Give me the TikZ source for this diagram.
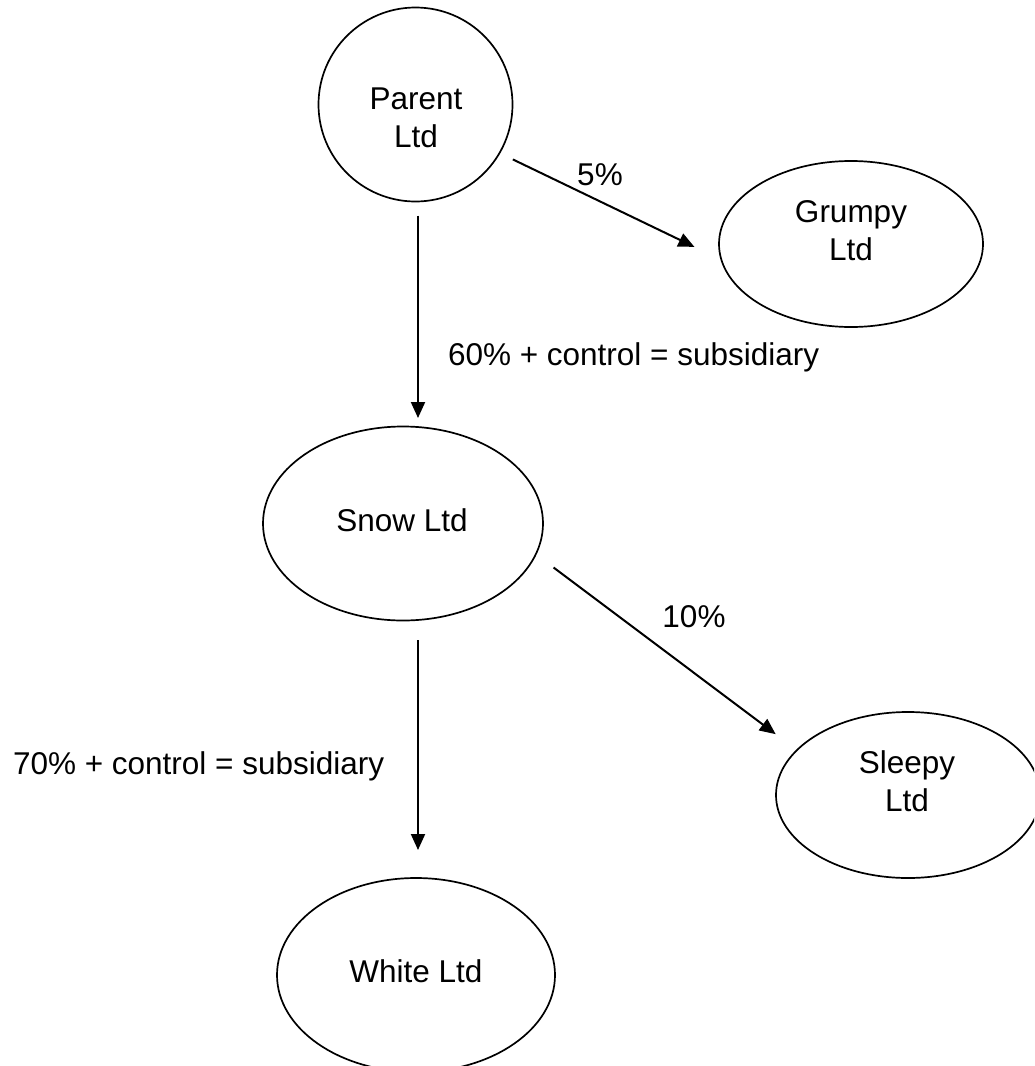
\documentclass[tikz,border=0pt]{standalone}
\usepackage{fontspec}
\setmainfont{Liberation Sans}
\usetikzlibrary{arrows.meta,shapes.geometric}
\begin{document}
\begin{tikzpicture}[x=1pt,y=-1pt,
  orgshape/.style={draw, line width=1.7pt, inner sep=0pt, outer sep=0pt},
  orgell/.style={orgshape, ellipse},
  orgcirc/.style={orgshape, circle, minimum size=194pt},
  txt/.style={font=\fontsize{31.5}{38}\selectfont, align=center, inner sep=0pt, outer sep=0pt},
  arr/.style={line width=2pt, -{Triangle[length=16pt,width=14pt]}}]
\useasboundingbox (0,0) rectangle (1034,1066);
\clip (0,0) rectangle (1034,1066);

% shapes
\node[orgcirc] (parent) at (415.5,104.5) {};
\node[orgell, minimum width=264pt, minimum height=166pt] (grumpy) at (851,244) {};
\node[orgell, minimum width=280pt, minimum height=194pt] (snow) at (403,523.5) {};
\node[orgell, minimum width=264pt, minimum height=166pt] (sleepy) at (908,795) {};
\node[orgell, minimum width=278pt, minimum height=194pt] (white) at (416,975) {};

% texts
\node[txt] (parentT) at (416,118) {Parent\\Ltd};
\node[txt] (grumpyT) at (851,231) {Grumpy\\Ltd};
\node[txt, anchor=base] (snowT) at (402,531) {Snow Ltd};
\node[txt] (sleepyT) at (907,781) {Sleepy\\Ltd};
\node[txt, anchor=base] (whiteT) at (416,982) {White Ltd};

% connectors
\draw[arr, shorten <=14.8pt, shorten >=30pt] (parent.-30) -- (grumpy.187.5);
\draw[arr, shorten <=14pt, shorten >=8.5pt] ([xshift=2.5pt]parent.south) -- ([xshift=15pt]snow.north);
\draw[arr, shorten <=22.2pt, shorten >=26.6pt] (snow.-13.7) -- (sleepy.158.5);
\draw[arr, shorten <=19.5pt, shorten >=28pt] ([xshift=15pt]snow.south) -- ([xshift=2pt]white.north);

% labels
\node[txt, anchor=base] (l5) at (600,185) {5\%};
\node[txt, anchor=base west] (l60) at (448,365) {60\% + control = subsidiary};
\node[txt, anchor=base] (l10) at (694,627) {10\%};
\node[txt, anchor=base west] (l70) at (13,774) {70\% + control = subsidiary};
\end{tikzpicture}
\end{document}
